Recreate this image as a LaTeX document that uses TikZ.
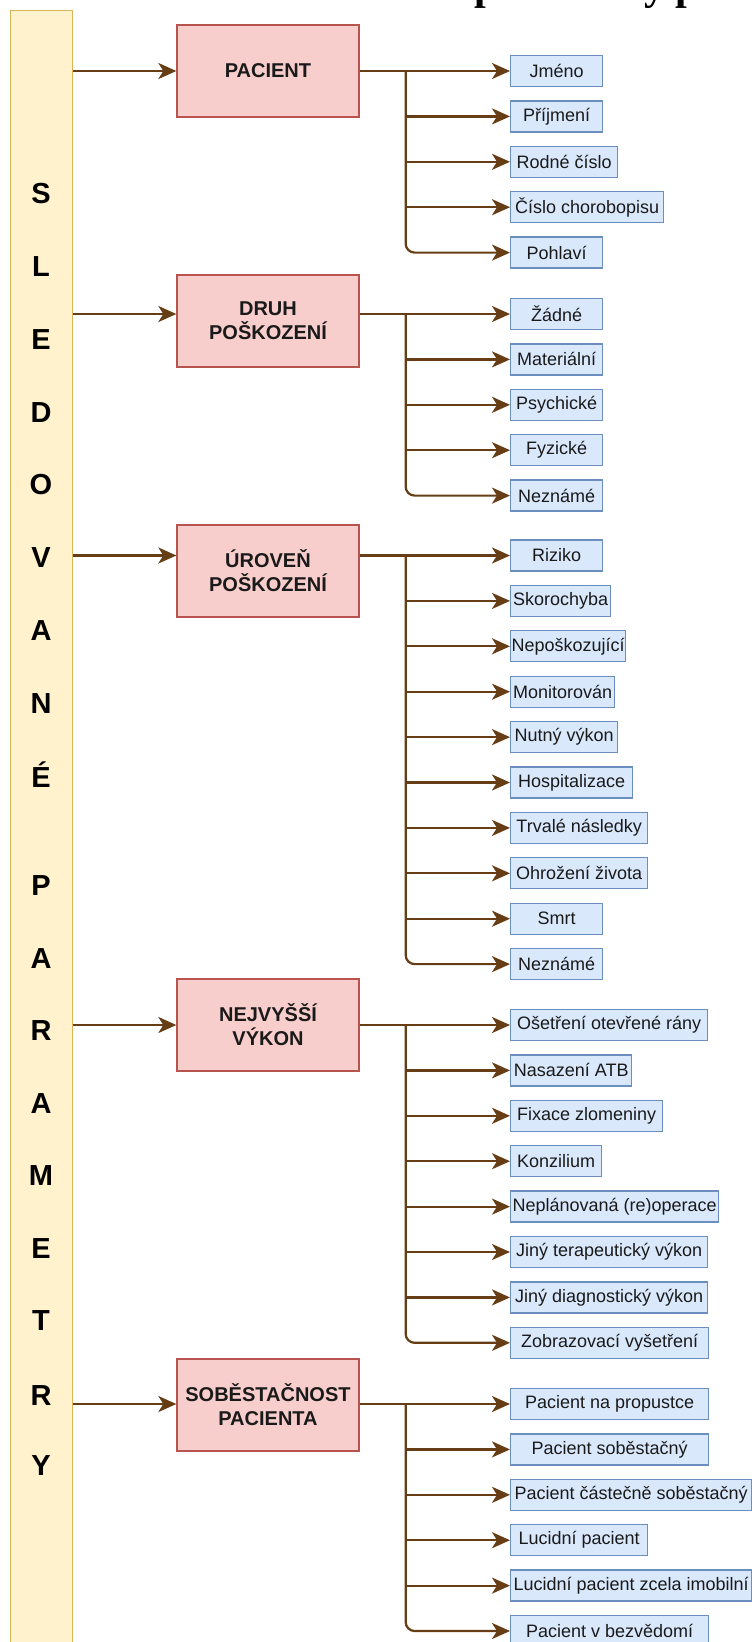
\documentclass[tikz,border=0pt]{standalone}
\usepackage{fontspec}
\setmainfont{Liberation Sans}
\newfontfamily\titleserif{Liberation Serif}
\usetikzlibrary{arrows.meta}

\definecolor{linebrown}{RGB}{102,61,20}
\definecolor{itemfill}{HTML}{DAE8FC}
\definecolor{itemdraw}{HTML}{6C8EBF}
\definecolor{catfill}{HTML}{F8CECC}
\definecolor{catdraw}{HTML}{B85450}
\definecolor{barfill}{HTML}{FFF2CC}
\definecolor{bardraw}{HTML}{D6B656}
\definecolor{ink}{RGB}{26,26,26}

\tikzset{
  item/.style={draw=itemdraw, fill=itemfill, line width=1.3pt, minimum height=31,
    inner sep=0pt, anchor=west, text=ink, font=\fontsize{18}{20}\selectfont},
  cat/.style={draw=catdraw, fill=catfill, line width=1.3pt, minimum width=182,
    minimum height=92, inner sep=0pt, align=center, text=ink,
    font=\fontsize{20}{24}\selectfont\bfseries},
  barletter/.style={anchor=base, inner sep=0pt, text=black,
    font=\fontsize{29}{30}\selectfont\bfseries},
  conn/.style={draw=linebrown, line width=2.2pt,
    -{Stealth[length=18pt,width=16pt,inset=5pt]}},
  lastbranch/.style={conn, rounded corners=9pt},
}

\begin{document}
\begin{tikzpicture}[x=1pt,y=-1pt]
\useasboundingbox (0,0) rectangle (752,1642);

% heading above the frame (only its descenders reach the page)
\node[anchor=base west, inner sep=0pt, text=black,
      font=\titleserif\bfseries\fontsize{42}{44}\selectfont] (title) at (474,-0.5) {parametry pro};
\node[anchor=base east, inner sep=0pt, text=black,
      font=\titleserif\bfseries\fontsize{42}{44}\selectfont] (title0) at (title.base west) {Sledované\ };

% vertical bar with the spelled-out heading
\node[draw=bardraw, fill=barfill, line width=1.3pt, anchor=north west,
      minimum width=62, minimum height=1700, inner sep=0pt] (bar) at (10,10) {};
\foreach \l/\y [count=\k] in {S/193, L/266, E/339, D/412, O/484, V/557, A/630, N/703, É/777,
    P/885, A/958, R/1030, A/1103, M/1175, E/1248, T/1320, R/1395, Y/1465}
  \node[barletter] (letter\k) at (41,\y+10.5) {\l};

% category boxes
\node[cat] (pac)   at (268,71)   {PACIENT};
\node[cat] (druh)  at (268,321)  {DRUH\\POŠKOZENÍ};
\node[cat] (urov)  at (268,571)  {ÚROVEŇ\\POŠKOZENÍ};
\node[cat] (vykon) at (268,1025) {NEJVYŠŠÍ\\VÝKON};
\node[cat] (sob)   at (268,1405) {SOBĚSTAČNOST\\PACIENTA};

% value boxes
\foreach \t/\w [count=\i from 0] in {Jméno/92, Příjmení/92, Rodné číslo/107,
    Číslo chorobopisu/153, Pohlaví/92}
  \node[item, minimum width=\w] (a\i) at (510,71+45.4*\i) {\t};
\foreach \t/\w [count=\i from 0] in {Žádné/92, Materiální/92, Psychické/92,
    Fyzické/92, Neznámé/92}
  \node[item, minimum width=\w] (b\i) at (510,314+45.4*\i) {\t};
\foreach \t/\w [count=\i from 0] in {Riziko/92, Skorochyba/100, Nepoškozující/115,
    Monitorován/104, Nutný výkon/107, Hospitalizace/122, Trvalé následky/137,
    Ohrožení života/137, Smrt/92, Neznámé/92}
  \node[item, minimum width=\w] (c\i) at (510,555.5+45.4*\i) {\t};
\foreach \t/\w [count=\i from 0] in {Ošetření otevřené rány/197, Nasazení ATB/121,
    Fixace zlomeniny/152, Konzilium/91, Neplánovaná (re)operace/208,
    Jiný terapeutický výkon/197, Jiný diagnostický výkon/197,
    Zobrazovací vyšetření/198}
  \node[item, minimum width=\w] (d\i) at (510,1025+45.4*\i) {\t};
\foreach \t/\w [count=\i from 0] in {Pacient na propustce/198, Pacient soběstačný/198,
    Pacient částečně soběstačný/241, Lucidní pacient/137,
    Lucidní pacient zcela imobilní/241, Pacient v bezvědomí/198}
  \node[item, minimum width=\w] (e\i) at (510,1404+45.4*\i) {\t};

% bar -> categories
\draw[conn] (bar.east |- a0.west) -- (pac.west |- a0.west);
\draw[conn] (bar.east |- b0.west) -- (druh.west |- b0.west);
\draw[conn] (bar.east |- c0.west) -- (urov.west |- c0.west);
\draw[conn] (bar.east |- d0.west) -- (vykon.west |- d0.west);
\draw[conn] (bar.east |- e0.west) -- (sob.west |- e0.west);

% trunk points where each fan of values splits off
\path (pac.east |- a0.west) ++(46,0) coordinate (ta);
\path (druh.east |- b0.west) ++(46,0) coordinate (tb);
\path (urov.east |- c0.west) ++(46,0) coordinate (tc);
\path (vykon.east |- d0.west) ++(46,0) coordinate (td);
\path (sob.east |- e0.west) ++(46,0) coordinate (te);

% categories -> values
\draw[conn] (pac.east |- a0.west) -- (a0.west);
\foreach \i in {1,...,3} \draw[conn] (ta |- a\i.west) -- (a\i.west);
\draw[lastbranch] (ta) |- (a4.west);

\draw[conn] (druh.east |- b0.west) -- (b0.west);
\foreach \i in {1,...,3} \draw[conn] (tb |- b\i.west) -- (b\i.west);
\draw[lastbranch] (tb) |- (b4.west);

\draw[conn] (urov.east |- c0.west) -- (c0.west);
\foreach \i in {1,...,8} \draw[conn] (tc |- c\i.west) -- (c\i.west);
\draw[lastbranch] (tc) |- (c9.west);

\draw[conn] (vykon.east |- d0.west) -- (d0.west);
\foreach \i in {1,...,6} \draw[conn] (td |- d\i.west) -- (d\i.west);
\draw[lastbranch] (td) |- (d7.west);

\draw[conn] (sob.east |- e0.west) -- (e0.west);
\foreach \i in {1,...,4} \draw[conn] (te |- e\i.west) -- (e\i.west);
\draw[lastbranch] (te) |- (e5.west);
\end{tikzpicture}
\end{document}
